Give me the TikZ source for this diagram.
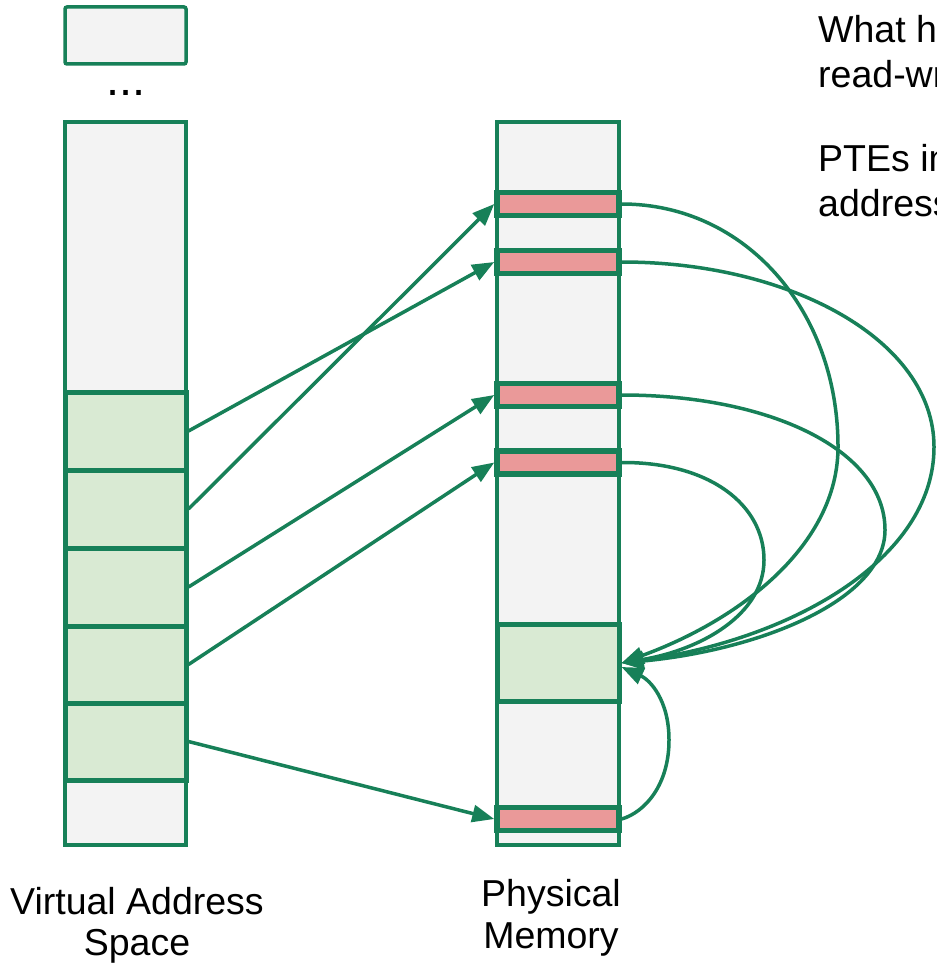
\documentclass[tikz,border=0pt]{standalone}
\usepackage{fontspec}
\setmainfont{Liberation Sans}
\usetikzlibrary{arrows.meta}
\definecolor{gline}{RGB}{23,128,88}
\definecolor{gfill}{RGB}{217,234,211}
\definecolor{pfill}{RGB}{234,153,153}
\definecolor{colfill}{RGB}{243,243,243}
\begin{document}
\begin{tikzpicture}[x=1pt,y=-1pt,
  col/.style={draw=gline, fill=colfill, line width=3.5pt, rectangle, inner sep=0pt, minimum width=121pt},
  vpage/.style={draw=gline, fill=gfill, line width=5pt, rectangle, inner sep=0pt, minimum width=121pt},
  pte/.style={draw=gline, fill=pfill, line width=5.5pt, rectangle, inner sep=0pt, minimum width=122pt, minimum height=23pt},
  conn/.style={draw=gline, line width=3.5pt, -{Triangle[length=22pt,width=17pt]}},
  lbl/.style={font=\fontsize{37.5}{42}\selectfont, inner sep=0pt}
]
\useasboundingbox (0,0) rectangle (936,965);

% virtual address space
\node[col, minimum height=57pt, rounded corners=2pt] (top) at (125.5,35.5) {};
\node[lbl, font=\fontsize{47}{50}\selectfont, anchor=base] (dots) at (126,96) {...};
\node[col, minimum height=723pt] (vas) at (125.5,483.5) {};
\node[vpage, minimum height=78pt] (v1) at (125.5,431) {};
\node[vpage, minimum height=78pt] (v2) at (125.5,509) {};
\node[vpage, minimum height=78pt] (v3) at (125.5,587) {};
\node[vpage, minimum height=77pt] (v4) at (125.5,664.5) {};
\node[vpage, minimum height=77pt] (v5) at (125.5,741.5) {};

% physical memory
\node[col, minimum width=122pt, minimum height=723pt] (pm) at (558,483.5) {};
\node[pte] (p1) at (558,204) {};
\node[pte] (p2) at (558,262) {};
\node[pte] (p3) at (558,395) {};
\node[pte] (p4) at (558,462.5) {};
\node[pte] (p5) at (558,819) {};
\node[vpage, minimum width=122pt, minimum height=77pt] (pg) at (558,663) {};

% mappings
\draw[conn] (v1.east) -- (p2.west);
\draw[conn] (v2.east) -- (p1.west);
\draw[conn] (v3.east) -- (p3.west);
\draw[conn] (v4.east) -- (p4.west);
\draw[conn] (v5.east) -- (p5.west);

% PTE curves
\draw[conn] (p1.east) .. controls (745,204) and (838,310) .. (838,447)
  .. controls (838,545) and (740,620) .. (pg.east);
\draw[conn] (p2.east) .. controls (790,262) and (934,340) .. (934,447)
  .. controls (934,560) and (790,640) .. (pg.east);
\draw[conn] (p3.east) .. controls (770,395) and (885,450) .. (885,530)
  .. controls (885,600) and (760,650) .. (pg.east);
\draw[conn] (p4.east) .. controls (710,462) and (764,505) .. (764,560)
  .. controls (764,615) and (700,650) .. (pg.east);
\draw[conn] (p5.east) .. controls (645,812) and (669,785) .. (669,740)
  .. controls (669,700) and (650,680) .. ([yshift=-4pt]pg.east);

% texts
\node[lbl, anchor=base west] (t1) at (818,43) {What h};
\node[lbl, anchor=base west] (t2) at (818,88) {read-wr};
\node[lbl, anchor=base west] (t3) at (818,172) {PTEs in};
\node[lbl, anchor=base west] (t4) at (818,217) {address};
\node[lbl, anchor=base] (vl1) at (137,914) {Virtual Address};
\node[lbl, anchor=base] (vl2) at (137,955) {Space};
\node[lbl, anchor=base] (pl1) at (551,906) {Physical};
\node[lbl, anchor=base] (pl2) at (551,948) {Memory};
\end{tikzpicture}
\end{document}
